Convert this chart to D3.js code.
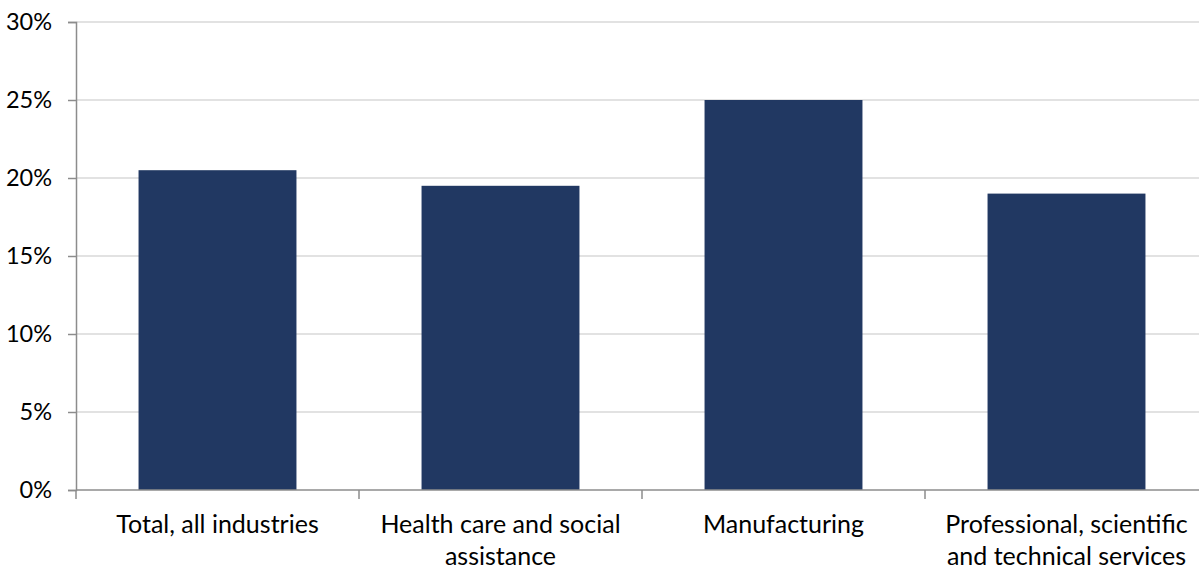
<!DOCTYPE html>
<html><head><meta charset="utf-8">
<script src="https://cdn.jsdelivr.net/npm/d3@7"></script>
<style>body{margin:0;background:#fff}svg{display:block}text{font-family:Lato,"Open Sans",sans-serif;fill:#000}</style>
</head><body><svg id="c" width="1199" height="569"></svg>
<script>
const categories = ["Total, all industries", "Health care and social\nassistance", "Manufacturing", "Professional, scientific\nand technical services"];
const values = [20.5, 19.5, 25.0, 19.0];
const yTicks = [0, 5, 10, 15, 20, 25, 30];

(function() {
const svg = d3.select("#c");
const mLeft = 76, mRight = 1208, mTop = 22, mBottom = 490;
const x = d3.scaleBand().domain(categories).range([mLeft, mRight]).paddingInner(0.442).paddingOuter(0.221);
const xb = d3.scaleBand().domain(categories).range([mLeft, mRight]).padding(0);
const y = d3.scaleLinear().domain([0, 30]).range([mBottom, mTop]);

svg.append("g").selectAll("line").data(yTicks.filter(d => d > 0)).join("line")
  .attr("x1", mLeft).attr("x2", mRight).attr("y1", d => y(d)).attr("y2", d => y(d))
  .attr("stroke", "#d9d9d9").attr("stroke-width", 1.3);

svg.append("g").selectAll("rect").data(values).join("rect")
  .attr("x", (d, i) => x(categories[i])).attr("width", x.bandwidth())
  .attr("y", d => y(d)).attr("height", d => y(0) - y(d))
  .attr("fill", "#213862");

const ya = svg.append("g").attr("transform", `translate(${mLeft},0)`)
  .call(d3.axisLeft(y).tickValues(yTicks).tickFormat(d => d + "%").tickSize(8).tickPadding(16));
ya.select(".domain").attr("stroke", "#8c8c8c").attr("stroke-width", 1.5);
ya.selectAll(".tick line").attr("stroke", "#8c8c8c").attr("stroke-width", 1.5);
ya.selectAll("text").style("font-size", "23.5px").attr("fill", "#000").style("font-family", "Lato, 'Open Sans', sans-serif");

const xa = svg.append("g").attr("transform", `translate(0,${mBottom})`);
xa.append("line").attr("x1", mLeft).attr("x2", mRight).attr("stroke", "#8c8c8c").attr("stroke-width", 1.5);
const bounds = categories.map(c => xb(c)).concat([mRight]);
xa.selectAll("line.t").data(bounds).join("line").attr("class", "t")
  .attr("x1", d => d).attr("x2", d => d).attr("y1", 0).attr("y2", 9)
  .attr("stroke", "#8c8c8c").attr("stroke-width", 1.5);
xa.selectAll("text").data(categories).join("text")
  .attr("x", d => x(d) + x.bandwidth() / 2).attr("y", 0)
  .attr("text-anchor", "middle").style("font-size", "25px")
  .each(function(d) {
    const t = d3.select(this);
    d.split("\n").forEach((ln, i) => {
      t.append("tspan").attr("x", x(d) + x.bandwidth() / 2).attr("y", 43 + i * 32).text(ln);
    });
  });
})();
</script></body></html>
